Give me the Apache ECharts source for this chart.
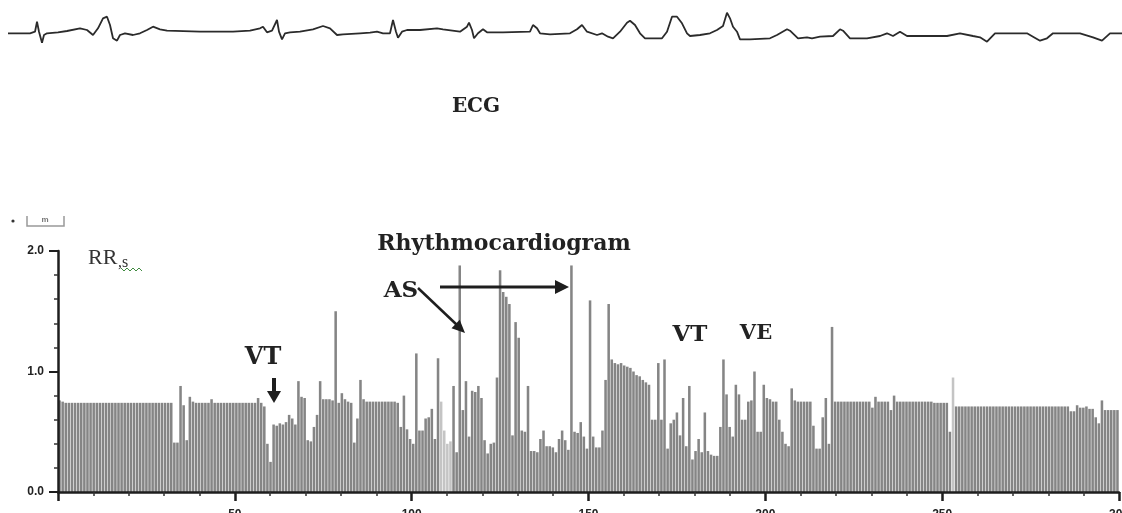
<!DOCTYPE html>
<html><head><meta charset="utf-8">
<script src="https://cdn.jsdelivr.net/npm/echarts@6/dist/echarts.min.js"></script>
<style>html,body{margin:0;padding:0;background:#fff}#c{width:1122px;height:513px}</style>
</head><body><div id="c"></div>
<script>
// ECG strip: [time (s), amplitude (mV)]
const ecgSamples = [
 [0.08,-0.03],[0.30,-0.03],[0.32,-0.2],[0.35,0.13],[0.37,1.13],[0.39,0.13],[0.42,-0.97],[0.44,-0.2],[0.47,-0.03],[0.58,0.07],
 [0.67,0.2],[0.80,0.47],[0.87,0.3],[0.93,-0.2],[0.98,0.47],[1.03,1.47],[1.07,1.63],[1.10,0.8],[1.13,-0.53],[1.17,-0.77],
 [1.20,-0.2],[1.25,-0.03],[1.33,-0.2],[1.40,-0.03],[1.47,0.3],[1.53,0.63],[1.60,0.37],[1.67,0.23],[2.00,0.13],[2.33,0.13],
 [2.50,0.23],[2.60,0.47],[2.63,0.63],[2.67,0.07],[2.72,0.23],[2.77,1.3],[2.79,0.13],[2.82,-0.63],[2.85,-0.03],[2.90,0.07],
 [3.00,0.13],[3.13,0.37],[3.23,0.7],[3.30,0.47],[3.37,-0.2],[3.43,-0.13],[3.60,-0.03],[3.70,0.03],[3.77,0.13],[3.83,-0.03],
 [3.90,-0.03],[3.93,1.3],[3.96,0.13],[3.98,-0.47],[4.02,0.13],[4.07,0.3],[4.20,0.3],[4.37,0.47],[4.43,0.37],[4.60,0.13],
 [4.67,0.63],[4.69,1.03],[4.72,0.3],[4.74,-0.53],[4.78,-0.03],[4.83,0.37],[4.87,0.07],[5.03,0.07],[5.30,0.13],[5.33,0.8],
 [5.37,0.47],[5.40,-0.03],[5.50,-0.13],[5.70,-0.03],[5.77,0.37],[5.82,0.8],[5.87,0.13],[5.97,-0.2],[6.02,-0.03],[6.08,-0.37],
 [6.13,-0.53],[6.20,0.13],[6.27,1.03],[6.30,1.23],[6.35,0.8],[6.40,-0.03],[6.45,-0.53],[6.62,-0.53],[6.67,0.13],[6.72,1.63],
 [6.77,1.63],[6.82,0.97],[6.87,-0.03],[6.90,-0.3],[7.00,-0.2],[7.10,-0.03],[7.17,0.3],[7.23,0.7],[7.27,2.03],[7.30,1.47],
 [7.33,0.63],[7.37,0.13],[7.40,-0.63],[7.50,-0.63],[7.70,-0.53],[7.77,-0.2],[7.87,0.37],[7.90,0.23],[7.98,-0.53],[8.07,-0.43],
 [8.12,-0.53],[8.20,-0.37],[8.33,-0.3],[8.40,0.37],[8.43,0.23],[8.50,-0.53],[8.67,-0.53],[8.80,-0.3],[8.87,-0.03],[8.93,-0.3],
 [9.00,0.13],[9.07,-0.3],[9.23,-0.3],[9.47,-0.3],[9.60,-0.03],[9.73,-0.3],[9.80,-0.43],[9.87,-0.87],[9.95,-0.03],[10.27,-0.03],
 [10.33,-0.37],[10.40,-0.77],[10.47,-0.53],[10.53,-0.03],[10.80,-0.03],[10.93,-0.43],[11.02,-0.77],[11.10,-0.03],[11.22,-0.03]
];

// Rhythmocardiogram: RR intervals (s), one per bar
const rrValues = [
 0.76,0.75,0.74,0.74,0.74,0.74,0.74,0.74,0.74,0.74,
 0.74,0.74,0.74,0.74,0.74,0.74,0.74,0.74,0.74,0.74,
 0.74,0.74,0.74,0.74,0.74,0.74,0.74,0.74,0.74,0.74,
 0.74,0.74,0.74,0.74,0.74,0.74,0.74,0.41,0.41,0.88,
 0.72,0.43,0.79,0.75,0.74,0.74,0.74,0.74,0.74,0.77,
 0.74,0.74,0.74,0.74,0.74,0.74,0.74,0.74,0.74,0.74,
 0.74,0.74,0.74,0.74,0.78,0.74,0.71,0.40,0.25,0.56,
 0.55,0.57,0.56,0.58,0.64,0.61,0.56,0.92,0.79,0.78,
 0.43,0.42,0.54,0.64,0.92,0.77,0.77,0.77,0.76,1.50,
 0.74,0.82,0.77,0.75,0.74,0.41,0.61,0.93,0.77,0.75,
 0.75,0.75,0.75,0.75,0.75,0.75,0.75,0.75,0.75,0.74,
 0.54,0.80,0.52,0.44,0.40,1.15,0.51,0.51,0.61,0.62,
 0.69,0.44,1.11,0.75,0.51,0.40,0.42,0.88,0.33,1.88,
 0.68,0.92,0.46,0.84,0.83,0.88,0.78,0.43,0.32,0.40,
 0.41,0.95,1.84,1.66,1.62,1.56,0.47,1.41,1.28,0.51,
 0.50,0.88,0.34,0.34,0.33,0.44,0.51,0.38,0.38,0.37,
 0.33,0.44,0.51,0.43,0.35,1.88,0.50,0.49,0.58,0.46,
 0.36,1.59,0.46,0.37,0.37,0.51,0.93,1.56,1.10,1.07,
 1.06,1.07,1.05,1.04,1.03,1.00,0.97,0.96,0.93,0.91,
 0.89,0.60,0.60,1.07,0.60,1.10,0.36,0.57,0.60,0.66,
 0.47,0.78,0.38,0.88,0.27,0.34,0.44,0.33,0.66,0.34,
 0.31,0.30,0.30,0.54,1.10,0.81,0.54,0.46,0.89,0.81,
 0.60,0.60,0.75,0.76,1.00,0.50,0.50,0.89,0.78,0.77,
 0.75,0.75,0.60,0.50,0.40,0.38,0.86,0.76,0.75,0.75,
 0.75,0.75,0.75,0.55,0.36,0.36,0.62,0.78,0.40,1.37,
 0.75,0.75,0.75,0.75,0.75,0.75,0.75,0.75,0.75,0.75,
 0.75,0.75,0.70,0.79,0.75,0.75,0.75,0.75,0.68,0.80,
 0.75,0.75,0.75,0.75,0.75,0.75,0.75,0.75,0.75,0.75,
 0.75,0.75,0.74,0.74,0.74,0.74,0.74,0.50,0.95,0.71,
 0.71,0.71,0.71,0.71,0.71,0.71,0.71,0.71,0.71,0.71,
 0.71,0.71,0.71,0.71,0.71,0.71,0.71,0.71,0.71,0.71,
 0.71,0.71,0.71,0.71,0.71,0.71,0.71,0.71,0.71,0.71,
 0.71,0.71,0.71,0.71,0.71,0.71,0.67,0.67,0.72,0.70,
 0.70,0.71,0.69,0.69,0.62,0.57,0.76,0.68,0.68,0.68,
 0.68,0.68
];
// beats drawn in a lighter grey in the original
const lightBeats = [123,124,125,126,288];

const beatAxisMax = 300;
const beatTickStep = 50;
const rrAxisMax = 2;
const rrTickStep = 1;

const beats = rrValues.map((v, i) => i + 1);

const chart = echarts.init(document.getElementById('c'), null, {renderer: 'canvas'});
const dark = '#1e1e1e';
chart.setOption({
  animation: false,
  backgroundColor: '#ffffff',
  grid: [
    {left: 0, right: 0, top: 0, height: 63, outerBoundsMode: 'none', containLabel: false},
    {left: 58, right: 3, top: 251, bottom: 21, outerBoundsMode: 'none', containLabel: false}
  ],
  xAxis: [
    {type: 'value', gridIndex: 0, min: 0, max: 11.22, show: false},
    {type: 'category', gridIndex: 1, data: beats, show: false, position: 'top', boundaryGap: true},
    {type: 'value', gridIndex: 1, min: 0, max: beatAxisMax, interval: beatTickStep, position: 'bottom', z: 10,
     axisLine: {show: true, onZero: false, lineStyle: {color: dark, width: 2.5}},
     axisTick: {show: true, length: 9, lineStyle: {color: dark, width: 2.5}},
     minorTick: {show: true, splitNumber: 5, length: 4, lineStyle: {color: '#333', width: 1.5}},
     splitLine: {show: false}, minorSplitLine: {show: false},
     axisLabel: {margin: 17, color: '#222', fontSize: 12, fontWeight: 'bold', fontFamily: 'Arial, "Liberation Sans", sans-serif',
       hideOverlap: false, formatter: v => v === 0 ? '' : String(v)}}
  ],
  yAxis: [
    {type: 'value', gridIndex: 0, min: -3.0, max: 3.3, show: false},
    {type: 'value', gridIndex: 1, min: 0, max: rrAxisMax, interval: rrTickStep, z: 10,
     axisLine: {show: true, lineStyle: {color: dark, width: 2.5}},
     axisTick: {show: true, length: 9, lineStyle: {color: dark, width: 2}},
     minorTick: {show: true, splitNumber: 5, length: 4, lineStyle: {color: '#333', width: 1.5}},
     splitLine: {show: false}, minorSplitLine: {show: false},
     axisLabel: {margin: 14, color: '#222', fontSize: 12, fontWeight: 'bold', fontFamily: 'Arial, "Liberation Sans", sans-serif',
       formatter: v => v.toFixed(1)}}
  ],
  series: [
    {type: 'line', xAxisIndex: 0, yAxisIndex: 0, data: ecgSamples, showSymbol: false, symbol: 'none',
     lineStyle: {color: '#2b2b2b', width: 1.8}, smooth: false},
    {type: 'bar', xAxisIndex: 1, yAxisIndex: 1, data: rrValues, barCategoryGap: '18%',
     itemStyle: {color: p => lightBeats.includes(p.dataIndex) ? '#c4c4c4' : '#858585'}}
  ],
  graphic: [
    {type: 'text', x: 476, y: 107, style: {text: 'ECG', font: 'bold 20px "DejaVu Serif"', fill: '#222', align: 'center', verticalAlign: 'middle'}},
    {type: 'text', x: 504, y: 244, style: {text: 'Rhythmocardiogram', font: 'bold 22px "DejaVu Serif"', fill: '#222', align: 'center', verticalAlign: 'middle'}},
    {type: 'text', x: 401, y: 291, style: {text: 'AS', font: 'bold 23px "DejaVu Serif"', fill: '#222', align: 'center', verticalAlign: 'middle'}},
    {type: 'text', x: 263, y: 358, style: {text: 'VT', font: 'bold 24px "DejaVu Serif"', fill: '#222', align: 'center', verticalAlign: 'middle'}},
    {type: 'text', x: 690, y: 335, style: {text: 'VT', font: 'bold 23px "DejaVu Serif"', fill: '#222', align: 'center', verticalAlign: 'middle'}},
    {type: 'text', x: 756, y: 334, style: {text: 'VE', font: 'bold 21px "DejaVu Serif"', fill: '#222', align: 'center', verticalAlign: 'middle'}},
    // arrows
    {type: 'line', z: 20, shape: {x1: 418, y1: 288, x2: 457, y2: 325}, style: {stroke: '#1e1e1e', lineWidth: 2.5}},
    {type: 'polygon', z: 20, shape: {points: [[465, 333], [451.5, 328.3], [459.7, 319.7]]}, style: {fill: '#1e1e1e'}},
    {type: 'line', z: 20, shape: {x1: 440, y1: 287, x2: 557, y2: 287}, style: {stroke: '#1e1e1e', lineWidth: 3}},
    {type: 'polygon', z: 20, shape: {points: [[569, 287], [555, 280], [555, 294]]}, style: {fill: '#1e1e1e'}},
    {type: 'line', z: 20, shape: {x1: 274, y1: 378, x2: 274, y2: 393}, style: {stroke: '#1e1e1e', lineWidth: 4}},
    {type: 'polygon', z: 20, shape: {points: [[274, 403], [267, 391], [281, 391]]}, style: {fill: '#1e1e1e'}},
    // RR, s label
    {type: 'text', x: 88, y: 258, style: {text: 'RR', font: '22px "Liberation Serif"', fill: '#333', verticalAlign: 'middle'}},
    {type: 'text', x: 118, y: 263, style: {text: ',s', font: '16px "Liberation Serif"', fill: '#333', verticalAlign: 'middle'}},
    {type: 'polyline', shape: {points: [[121,268],[124,271],[127,268],[130,271],[133,268],[136,271],[139,268],[142,271]]}, style: {stroke: '#3f8a3f', lineWidth: 1, fill: null}},
    // top-left marker
    {type: 'circle', shape: {cx: 13, cy: 221, r: 1.6}, style: {fill: '#333'}},
    {type: 'polyline', shape: {points: [[27, 216], [27, 226], [64, 226], [64, 216]]}, style: {stroke: '#999', lineWidth: 1.5, fill: null}},
    {type: 'text', x: 45, y: 220, style: {text: 'm', font: 'bold 8px Arial', fill: '#777', align: 'center', verticalAlign: 'middle'}}
  ]
});
</script>
</body></html>
